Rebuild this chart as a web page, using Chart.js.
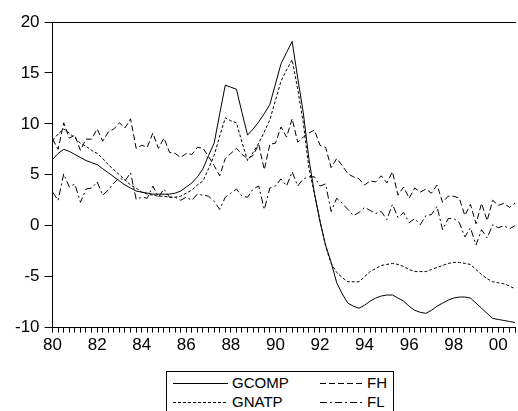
<!DOCTYPE html>
<html>
<head>
<meta charset="utf-8">
<script src="https://cdn.jsdelivr.net/npm/chart.js@4.4.1/dist/chart.umd.min.js"></script>
<style>
  html, body { margin: 0; padding: 0; background: #fff; }
  #wrap { position: relative; width: 518px; height: 411px; overflow: hidden; }
  #legend {
    position: absolute; left: 166px; top: 371px; width: 228px; height: 60px;
    border: 1px solid #000; box-sizing: border-box; padding: 2px 0 0 6px;
    display: grid; grid-template-columns: 147px auto; grid-auto-rows: 18px;
    align-content: start; row-gap: 1px;
    font: 15px "Liberation Sans", Arial, sans-serif; color: #000; background: #fff;
  }
  .item { display: flex; align-items: center; line-height: 18px; white-space: nowrap; }
  .item svg { margin-right: 4px; }
</style>
</head>
<body>
<div id="wrap">
  <canvas id="chart" width="518" height="411"></canvas>
  <div id="legend"></div>
</div>
<script>
// quarterly observations, 1980Q1 .. 2000Q4
const yearLabels = ['80', '82', '84', '86', '88', '90', '92', '94', '96', '98', '00'];

const gcomp = [
  6.5, 7.1, 7.5, 7.3, 7.0, 6.7, 6.4, 6.2, 6.0, 5.6, 5.2, 4.8, 4.4, 4.0, 3.7, 3.4,
  3.3, 3.2, 3.1, 3.1, 3.1, 3.1, 3.2, 3.4, 3.8, 4.2, 4.8, 5.6, 6.9, 8.1, 11.0, 13.8,
  13.6, 13.4, 11.1, 8.9, 9.5, 10.2, 11.0, 11.9, 13.9, 15.9, 17.0, 18.1, 14.5, 11.1, 6.6, 3.2,
  0.4, -1.9, -3.6, -5.6, -6.7, -7.6, -7.9, -8.1, -7.8, -7.4, -7.1, -6.9, -6.8, -6.8, -7.1, -7.4,
  -7.9, -8.3, -8.5, -8.6, -8.3, -7.9, -7.6, -7.3, -7.1, -7.0, -7.0, -7.1, -7.6, -8.1, -8.6, -9.1,
  -9.2, -9.3, -9.4, -9.5
];
const gnatp = [
  8.4, 9.0, 9.5, 9.1, 8.6, 8.1, 7.8, 7.4, 7.1, 6.6, 6.0, 5.5, 5.0, 4.5, 4.0, 3.7,
  3.3, 3.1, 3.0, 2.9, 2.9, 2.8, 2.8, 2.9, 3.2, 3.5, 4.0, 4.4, 5.6, 6.9, 8.8, 10.6,
  10.3, 10.1, 8.2, 6.4, 7.2, 8.1, 9.2, 10.4, 12.3, 14.2, 15.3, 16.3, 13.4, 10.1, 5.7, 3.1,
  0.5, -2.0, -3.7, -4.6, -5.1, -5.5, -5.5, -5.5, -5.0, -4.5, -4.2, -3.9, -3.8, -3.7, -3.8, -4.0,
  -4.3, -4.5, -4.5, -4.5, -4.3, -4.1, -3.9, -3.7, -3.6, -3.6, -3.7, -3.8, -4.3, -4.8, -5.2, -5.5,
  -5.6, -5.7, -5.9, -6.2
];
const fh = [
  8.5, 7.5, 10.1, 8.6, 8.9, 7.4, 8.5, 8.5, 9.5, 8.3, 9.2, 9.5, 10.1, 9.6, 10.5, 7.6,
  7.9, 7.7, 9.1, 7.6, 8.6, 7.2, 7.1, 6.7, 7.1, 7.0, 7.7, 7.6, 6.8, 5.9, 4.9, 6.6,
  7.1, 7.6, 7.0, 6.6, 6.9, 8.0, 5.5, 8.0, 8.1, 9.7, 8.7, 10.5, 8.2, 8.7, 9.1, 9.4,
  7.9, 7.7, 5.7, 6.6, 5.9, 5.1, 4.8, 4.6, 4.0, 4.4, 4.3, 4.9, 4.2, 5.3, 3.0, 3.8,
  2.7, 3.7, 3.3, 3.6, 3.2, 4.0, 2.3, 2.9, 2.9, 2.7, 1.0, 2.1, 0.2, 2.2, 0.5, 2.5,
  2.0, 2.2, 1.8, 2.2
];
const fl = [
  3.3, 2.5, 5.1, 3.8, 4.1, 2.3, 3.6, 3.7, 4.3, 3.0, 3.5, 4.2, 4.7, 4.4, 5.2, 2.6,
  2.8, 2.7, 3.9, 2.8, 3.6, 2.8, 2.8, 2.5, 2.8, 2.5, 3.1, 3.0, 2.9, 2.4, 1.6, 2.8,
  3.2, 3.6, 2.9, 2.8, 3.6, 3.9, 1.6, 3.7, 3.9, 4.6, 3.9, 5.3, 3.9, 4.6, 4.8, 4.8,
  3.9, 4.1, 1.4, 2.7, 2.2, 1.6, 1.0, 1.3, 1.8, 1.5, 1.2, 1.4, 0.6, 2.1, 0.8, 1.3,
  0.3, 0.7, 0.1, 1.0, 1.1, 1.9, -0.4, 0.7, 0.7, 0.3, -1.1, -0.2, -1.9, -0.4, -1.2, 0.1,
  -0.2, 0.0, -0.3, 0.0
];

// one category per quarter, a year label every 8 quarters
const labels = gcomp.map((_, i) => (i % 8 === 0 ? yearLabels[i / 8] : ''));

const series = [
  ['GCOMP', gcomp, []],
  ['GNATP', gnatp, [3, 2]],
  ['FH', fh, [6, 3]],
  ['FL', fl, [7, 3, 2, 3]]
];

const tickFont = { family: '"Liberation Sans", Arial, sans-serif', size: 17 };

const chart = new Chart(document.getElementById('chart'), {
  type: 'line',
  data: {
    labels,
    datasets: series.map(([label, data, dash]) => ({
      label, data,
      borderColor: '#000', borderWidth: 1, borderDash: dash,
      pointRadius: 0, tension: 0, fill: false
    }))
  },
  options: {
    responsive: false,
    animation: false,
    devicePixelRatio: 1,
    layout: { padding: { top: 14, right: 0, left: 10, bottom: 52 } },
    plugins: { legend: { display: false }, tooltip: { enabled: false } },
    scales: {
      x: {
        type: 'category',
        offset: false,
        border: { display: true, color: '#000', width: 1 },
        grid: { display: true, drawOnChartArea: false, drawTicks: true, tickLength: 5, color: '#000' },
        ticks: { autoSkip: false, maxRotation: 0, padding: 3, color: '#000', font: tickFont }
      },
      top: {
        type: 'linear', position: 'top', min: 0, max: 1,
        border: { display: true, color: '#000', width: 1 },
        grid: { display: false },
        ticks: { display: false }
      },
      y: {
        min: -10, max: 20,
        border: { display: true, color: '#000', width: 1 },
        grid: { display: true, drawOnChartArea: false, drawTicks: true, tickLength: 8, color: '#000' },
        ticks: { stepSize: 5, padding: 5, color: '#000', font: tickFont }
      }
    }
  }
});

// legend laid out as EViews does: two columns, filled column by column
const legend = document.getElementById('legend');
const order = [0, 2, 1, 3];
order.forEach((k, n) => {
  const ds = chart.data.datasets[k];
  const w = n % 2 === 0 ? 55 : 43;
  const item = document.createElement('div');
  item.className = 'item';
  item.innerHTML =
    `<svg width="${w}" height="3"><line x1="0" y1="1.5" x2="${w}" y2="1.5" stroke="#000" stroke-width="1" ` +
    `stroke-dasharray="${ds.borderDash.join(' ')}"/></svg><span>${ds.label}</span>`;
  legend.appendChild(item);
});
</script>
</body>
</html>
